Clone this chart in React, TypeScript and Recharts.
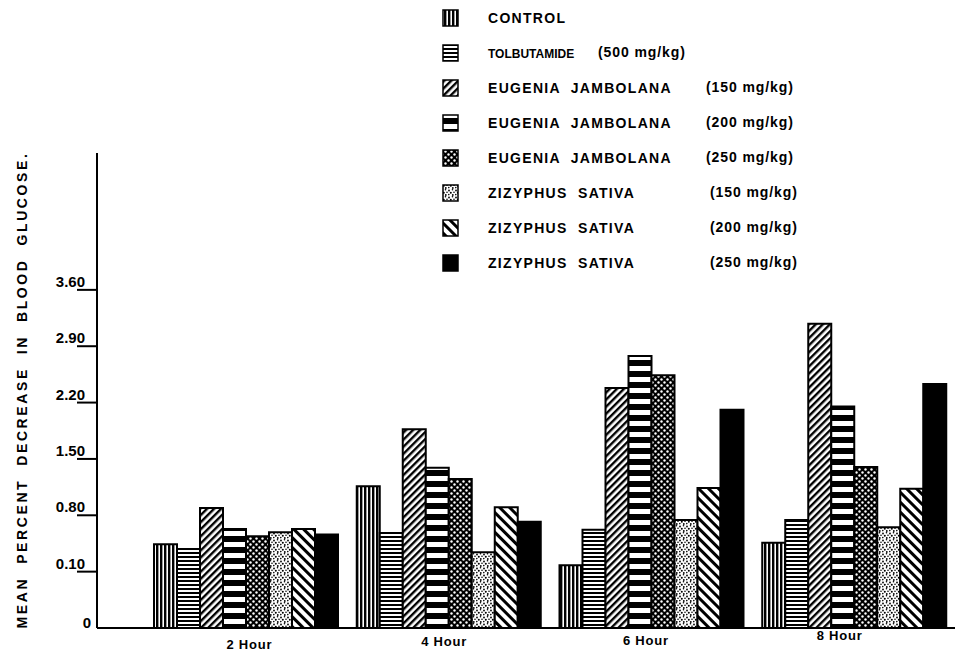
import { BarChart, Bar, XAxis, YAxis } from 'recharts'

// time points after dosing
const hours = ['2 Hour', '4 Hour', '6 Hour', '8 Hour']

// mean percent decrease in blood glucose
const control = [0.44, 1.16, 0.18, 0.46]
const tolbutamide = [0.38, 0.58, 0.62, 0.74]
const eugenia150 = [0.89, 1.87, 2.38, 3.18]
const eugenia200 = [0.63, 1.39, 2.78, 2.15]
const eugenia250 = [0.54, 1.25, 2.54, 1.4]
const zizyphus150 = [0.59, 0.34, 0.74, 0.65]
const zizyphus200 = [0.63, 0.9, 1.14, 1.13]
const zizyphus250 = [0.56, 0.72, 2.11, 2.43]

// the printed axis is broken: "0" sits one step below 0.10
const yTickLabels = ['0', '0.10', '0.80', '1.50', '2.20', '2.90', '3.60']
const STEP = 0.7
const SHIFT = 0.6

const series = [
  { key: 'control', name: 'CONTROL', dose: '', values: control, fill: 'url(#pat-control)' },
  { key: 'tolb', name: 'TOLBUTAMIDE', dose: '(500 mg/kg)', values: tolbutamide, fill: 'url(#pat-tolb)' },
  { key: 'ej150', name: 'EUGENIA  JAMBOLANA', dose: '(150 mg/kg)', values: eugenia150, fill: 'url(#pat-ej150)' },
  { key: 'ej200', name: 'EUGENIA  JAMBOLANA', dose: '(200 mg/kg)', values: eugenia200, fill: 'url(#pat-ej200)' },
  { key: 'ej250', name: 'EUGENIA  JAMBOLANA', dose: '(250 mg/kg)', values: eugenia250, fill: 'url(#pat-ej250)' },
  { key: 'zs150', name: 'ZIZYPHUS  SATIVA', dose: '(150 mg/kg)', values: zizyphus150, fill: 'url(#pat-zs150)' },
  { key: 'zs200', name: 'ZIZYPHUS  SATIVA', dose: '(200 mg/kg)', values: zizyphus200, fill: 'url(#pat-zs200)' },
  { key: 'zs250', name: 'ZIZYPHUS  SATIVA', dose: '(250 mg/kg)', values: zizyphus250, fill: '#000' },
]

const data = hours.map((h, i) => {
  const row: Record<string, any> = { hour: h }
  series.forEach((s) => (row[s.key] = s.values[i]))
  return row
})

const yTicks = yTickLabels.map((_, i) => i * STEP)

const FONT = '"Liberation Sans", Arial, sans-serif'

function Patterns() {
  return (
    <defs>
      <pattern id="pat-control" width="4" height="4" patternUnits="userSpaceOnUse">
        <rect width="4" height="4" fill="#fff" />
        <rect width="2.4" height="4" fill="#000" />
      </pattern>
      <pattern id="pat-tolb" width="4" height="4" patternUnits="userSpaceOnUse">
        <rect width="4" height="4" fill="#fff" />
        <rect width="4" height="2" fill="#000" />
      </pattern>
      <pattern id="pat-ej150" width="5" height="5" patternUnits="userSpaceOnUse" patternTransform="rotate(45)">
        <rect width="5" height="5" fill="#fff" />
        <rect width="2.4" height="5" fill="#000" />
      </pattern>
      <pattern id="pat-ej200" width="11" height="11" patternUnits="userSpaceOnUse">
        <rect width="11" height="11" fill="#000" />
        <rect y="3" width="11" height="5" fill="#fff" />
      </pattern>
      <pattern id="pat-ej250" width="6" height="6" patternUnits="userSpaceOnUse">
        <rect width="6" height="6" fill="#000" />
        <circle cx="1.5" cy="1.5" r="1.2" fill="#fff" />
        <circle cx="4.5" cy="4.5" r="1.2" fill="#fff" />
      </pattern>
      <pattern id="pat-zs150" width="7" height="7" patternUnits="userSpaceOnUse">
        <rect width="7" height="7" fill="#fff" />
        <circle cx="1" cy="1.5" r="0.9" fill="#000" />
        <circle cx="4.5" cy="0.8" r="0.8" fill="#000" />
        <circle cx="2.8" cy="3.8" r="1" fill="#000" />
        <circle cx="6" cy="3.2" r="0.8" fill="#000" />
        <circle cx="0.8" cy="5.6" r="0.8" fill="#000" />
        <circle cx="4.8" cy="6" r="0.9" fill="#000" />
      </pattern>
      <pattern id="pat-zs200" width="7" height="7" patternUnits="userSpaceOnUse" patternTransform="rotate(-45)">
        <rect width="7" height="7" fill="#fff" />
        <rect width="3" height="7" fill="#000" />
      </pattern>
    </defs>
  )
}

function YTick({ x, y, index }: any) {
  const label = yTickLabels[index]
  if (index === 0) {
    return (
      <text x={x - 6} y={y} textAnchor="end" fontSize={15} fontWeight="bold" fontFamily={FONT} fill="#000">
        {label}
      </text>
    )
  }
  return (
    <g>
      <line x1={x - 20} x2={x} y1={y} y2={y} stroke="#000" strokeWidth={2} />
      <text x={x - 12} y={y - 3} textAnchor="end" fontSize={15} fontWeight="bold" fontFamily={FONT} fill="#000">
        {label}
      </text>
    </g>
  )
}

const xLabelShift = [[4, 21], [-4, 18], [-5, 17], [-14, 12]]

function XTick({ x, y, payload, index }: any) {
  const [dx, dy] = xLabelShift[index] || [0, 20]
  return (
    <text x={x + dx} y={y + dy} textAnchor="middle" fontSize={13} fontWeight="bold" fontFamily={FONT} fill="#000" letterSpacing={0.8}>
      {payload.value}
    </text>
  )
}

function LegendBlock() {
  const doseX = [0, 598, 706, 706, 706, 710, 710, 710]
  return (
    <svg width={965} height={290} style={{ position: 'absolute', left: 0, top: 0, pointerEvents: 'none' }}>
      <Patterns />
      {series.map((s, i) => {
        const cy = 18 + i * 35
        return (
          <g key={s.key}>
            <rect x={443} y={cy - 8} width={15} height={16} fill={s.fill} stroke="#000" strokeWidth={1.5} />
            <text
              x={i === 1 ? 488 : 488}
              y={cy + 5}
              fontSize={i === 1 ? 12 : 14}
              fontWeight="bold"
              fontFamily={FONT}
              letterSpacing={i === 1 ? 0 : 1.3}
              fill="#000"
              style={{ whiteSpace: 'pre' }}
            >
              {s.name}
            </text>
            {s.dose && (
              <text x={doseX[i]} y={cy + 4} fontSize={14} fontWeight="bold" fontFamily={FONT} letterSpacing={0.9} fill="#000">
                {s.dose}
              </text>
            )}
          </g>
        )
      })}
    </svg>
  )
}

export default function App() {
  return (
    <div style={{ position: 'absolute', left: 0, top: 0, width: 965, height: 657, background: '#fff' }}>
      <BarChart
        width={965}
        height={657}
        data={data}
        margin={{ top: 153, right: 10, bottom: 4, left: 37 }}
        barCategoryGap={10}
        barGap={0}
      >
        <XAxis
          dataKey="hour"
          height={25}
          padding={{ left: 47, right: 0 }}
          tickLine={false}
          tickSize={0}
          tickMargin={0}
          axisLine={{ stroke: '#000', strokeWidth: 2 }}
          tick={<XTick />}
          interval={0}
        />
        <YAxis
          width={60}
          type="number"
          domain={[0, 5.9]}
          ticks={yTicks}
          allowDataOverflow
          tickLine={false}
          tickSize={0}
          tickMargin={0}
          axisLine={{ stroke: '#000', strokeWidth: 2 }}
          tick={<YTick />}
          interval={0}
        />
        {series.map((s) => (
          <Bar
            key={s.key}
            dataKey={(d: any) => d[s.key] + SHIFT}
            name={s.name}
            fill={s.fill}
            stroke="#000"
            strokeWidth={2}
            isAnimationActive={false}
          />
        ))}
      </BarChart>
      <div
        style={{
          position: 'absolute',
          left: 22,
          top: 390,
          transform: 'translate(-50%, -50%) rotate(-90deg)',
          whiteSpace: 'pre',
          fontFamily: FONT,
          fontWeight: 'bold',
          fontSize: 14,
          letterSpacing: 2.6,
        }}
      >
        MEAN  PERCENT  DECREASE  IN  BLOOD  GLUCOSE.
      </div>
      <LegendBlock />
    </div>
  )
}
